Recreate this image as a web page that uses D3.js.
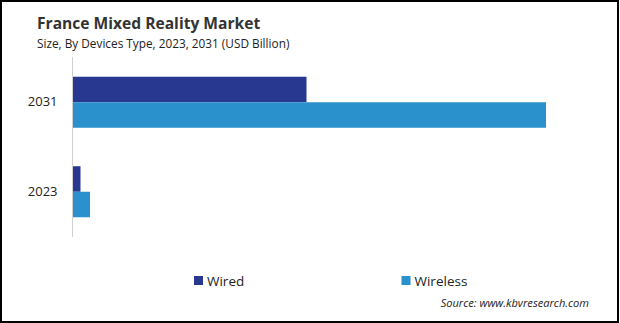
<!DOCTYPE html>
<html>
<head>
<meta charset="utf-8">
<script src="https://cdn.jsdelivr.net/npm/d3@7"></script>
<style>
html, body { margin: 0; padding: 0; background: #fff; }
svg { display: block; }
</style>
</head>
<body>
<svg id="chart" width="620" height="323"></svg>
<script>
const categories = ["2031", "2023"];
const seriesNames = ["Wired", "Wireless"];
const wiredValues = [2.34, 0.08];
const wirelessValues = [4.735, 0.175];
const seriesColors = ["#283891", "#2b91cd"];

const svg = d3.select("#chart");
const W = 620, H = 323;
const font = "'Open Sans', 'Noto Sans', sans-serif";

svg.append("rect").attr("x", 0).attr("y", 0).attr("width", W).attr("height", H).attr("fill", "#fff");
svg.append("rect").attr("x", 1).attr("y", 1).attr("width", 617).attr("height", 321)
  .attr("fill", "none").attr("stroke", "#000").attr("stroke-width", 2);

svg.append("text").attr("x", 37).attr("y", 29)
  .attr("font-family", font).attr("font-weight", "bold").attr("font-size", 15.6)
  .attr("fill", "#333").text("France Mixed Reality Market");
svg.append("text").attr("x", 37).attr("y", 48)
  .attr("font-family", font).attr("font-size", 11.8)
  .attr("fill", "#222").text("Size, By Devices Type,  2023, 2031 (USD Billion)");

const x = d3.scaleLinear().domain([0, 5.2]).range([72.5, 592.5]);
const y = d3.scaleBand().domain(categories).range([57.5, 236.5]).paddingInner(0.43).paddingOuter(0.215);
const ySub = d3.scaleBand().domain(seriesNames).range([0, y.bandwidth()]);

const rows = categories.map((c, i) => ({ cat: c, vals: [wiredValues[i], wirelessValues[i]] }));

const g = svg.append("g");
rows.forEach(r => {
  r.vals.forEach((v, j) => {
    g.append("rect")
      .attr("x", x(0))
      .attr("y", y(r.cat) + ySub(seriesNames[j]))
      .attr("width", x(v) - x(0))
      .attr("height", ySub.bandwidth())
      .attr("fill", seriesColors[j]);
  });
});

// axis line
svg.append("line").attr("x1", x(0)).attr("x2", x(0)).attr("y1", 57).attr("y2", 237)
  .attr("stroke", "#d0d0d0").attr("stroke-width", 1);

const yAxis = d3.axisLeft(y).tickSize(0).tickPadding(15);
const ya = svg.append("g").attr("transform", `translate(${x(0)},0)`).call(yAxis);
ya.select(".domain").remove();
ya.selectAll("text").attr("font-family", font).attr("font-size", 13).attr("fill", "#222");

// legend
const legendX = [194, 401.5];
seriesNames.forEach((n, j) => {
  svg.append("rect").attr("x", legendX[j]).attr("y", 276).attr("width", 9).attr("height", 9)
    .attr("fill", seriesColors[j]);
  svg.append("text").attr("x", legendX[j] + 13).attr("y", 285.5)
    .attr("font-family", font).attr("font-size", 13.5).attr("fill", "#222").text(n);
});

svg.append("text").attr("x", 589).attr("y", 307).attr("text-anchor", "end")
  .attr("font-family", font).attr("font-style", "italic").attr("font-size", 11.1)
  .attr("fill", "#222").text("Source: www.kbvresearch.com");
</script>
</body>
</html>
